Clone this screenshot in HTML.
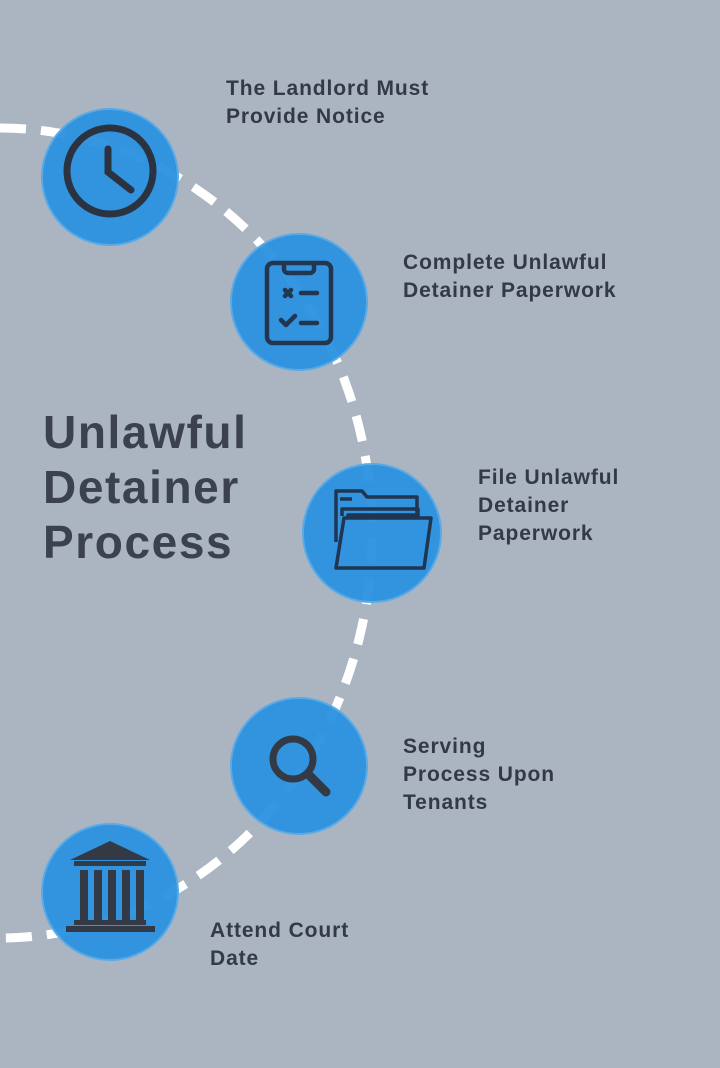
<!DOCTYPE html>
<html><head><meta charset="utf-8"><style>
html,body{margin:0;padding:0}
body{width:720px;height:1068px;background:#aab5c1;position:relative;overflow:hidden;font-family:"Liberation Sans",sans-serif}
.t{position:absolute;color:#333a45;font-weight:bold;font-size:21px;line-height:28px;letter-spacing:0.9px}
.title{position:absolute;left:43px;top:405px;color:#3b424d;font-weight:bold;font-size:46px;line-height:55px;letter-spacing:1.6px}
svg{position:absolute;left:0;top:0}
</style></head><body>
<svg width="720" height="1068" viewBox="0 0 720 1068">
<path d="M0,128 A372,405 0 0 1 0,938" fill="none" stroke="#fff" stroke-width="9" stroke-dasharray="26,15"/>
<g fill="#2d92e0" fill-opacity="0.96" stroke="#5aaae6" stroke-width="2">
<circle cx="110" cy="177" r="68"/>
<circle cx="299" cy="302" r="68"/>
<circle cx="372" cy="533" r="69"/>
<circle cx="299" cy="766" r="68"/>
<circle cx="110" cy="892" r="68"/>
</g>
<g fill="none" stroke="#2b3340" stroke-width="7" stroke-linecap="round">
<circle cx="110" cy="171" r="43"/>
<path d="M108,149 V172 L131,190"/>
</g>
<g fill="none" stroke="#22364f" stroke-width="4.5" stroke-linecap="round" stroke-linejoin="round">
<rect x="267" y="263" width="64" height="80" rx="6"/>
<path d="M284,264 v5 a4,4 0 0 0 4,4 h22 a4,4 0 0 0 4,-4 v-5"/>
<path d="M285,290 l6,6 M291,290 l-6,6 M301,293 h16"/>
<path d="M281,320 l5,5 l9,-9 M301,323 h16"/>
</g>
<g fill="none" stroke="#1f3550" stroke-width="3.5" stroke-linejoin="round">
<path d="M336,542 V491 h26 l5,6 h50 v20"/>
<path d="M340,499 h12"/>
<path d="M342,516 V509 h76 v8"/>
<path d="M348,517 V515 h68"/>
<path d="M336,568 l8,-50 h87 l-7,50 z"/>
</g>
<g fill="none" stroke="#333a45" stroke-linecap="round">
<circle cx="293" cy="759" r="20" stroke-width="7"/>
<path d="M308,774 L326,792" stroke-width="9"/>
</g>
<g fill="#333a45">
<path d="M70,860 L110,841 L150,860 Z"/>
<rect x="74" y="861" width="72" height="5"/>
<rect x="80" y="870" width="8" height="50"/>
<rect x="94" y="870" width="8" height="50"/>
<rect x="108" y="870" width="8" height="50"/>
<rect x="122" y="870" width="8" height="50"/>
<rect x="136" y="870" width="8" height="50"/>
<rect x="74" y="920" width="72" height="5"/>
<rect x="66" y="926" width="89" height="6"/>
</g>
</svg>
<div class="title">Unlawful<br>Detainer<br>Process</div>
<div class="t" style="left:226px;top:75px">The Landlord Must<br>Provide Notice</div>
<div class="t" style="left:403px;top:249px">Complete Unlawful<br>Detainer Paperwork</div>
<div class="t" style="left:478px;top:464px">File Unlawful<br>Detainer<br>Paperwork</div>
<div class="t" style="left:403px;top:733px">Serving<br>Process Upon<br>Tenants</div>
<div class="t" style="left:210px;top:917px">Attend Court<br>Date</div>
</body></html>
